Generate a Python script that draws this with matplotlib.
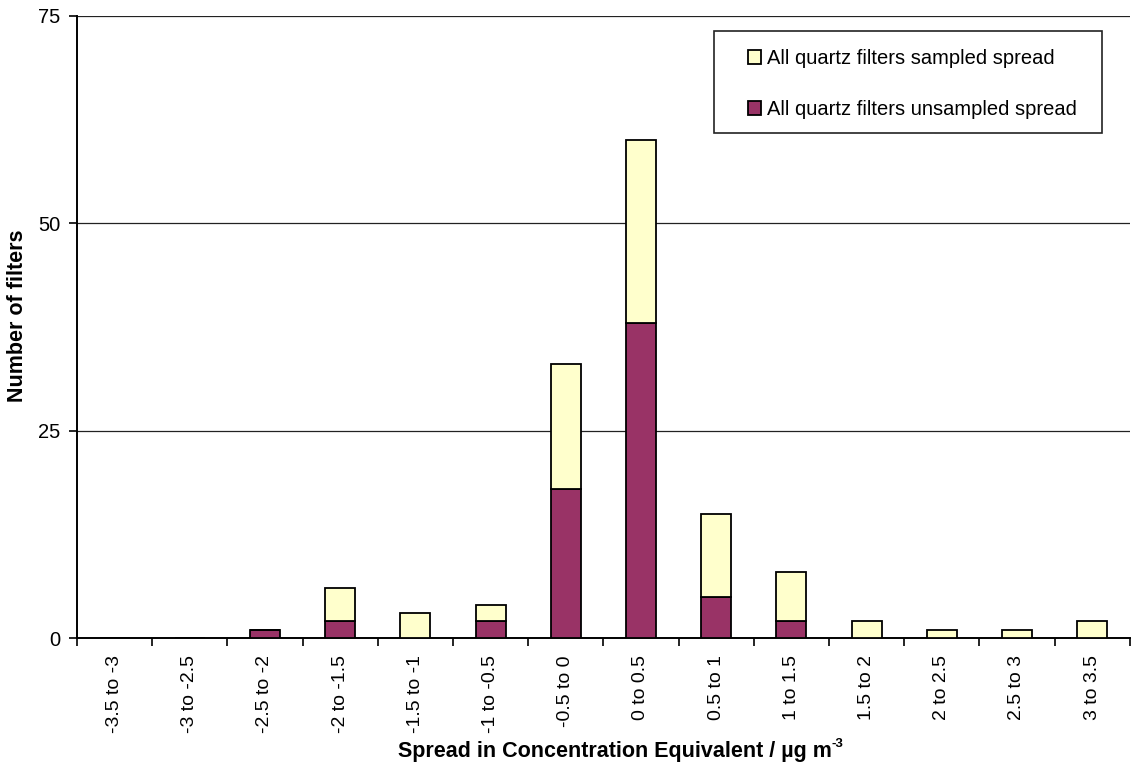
import numpy as np
import matplotlib.pyplot as plt
from matplotlib.patches import Rectangle

plt.rcParams['font.family'] = ['Liberation Sans', 'DejaVu Sans']

categories = ["-3.5 to -3", "-3 to -2.5", "-2.5 to -2", "-2 to -1.5", "-1.5 to -1",
              "-1 to -0.5", "-0.5 to 0", "0 to 0.5", "0.5 to 1", "1 to 1.5",
              "1.5 to 2", "2 to 2.5", "2.5 to 3", "3 to 3.5"]
unsampled = [0, 0, 1, 2, 0, 2, 18, 38, 5, 2, 0, 0, 0, 0]
sampled = [0, 0, 0, 4, 3, 2, 15, 22, 10, 6, 2, 1, 1, 2]

fig = plt.figure(figsize=(11.32, 7.69), dpi=100)
ax = fig.add_axes([0.068, 0.1703, 0.93, 0.809])

x = np.arange(len(categories))
ax.bar(x, unsampled, width=0.4, color="#993366", edgecolor="black", linewidth=1.3,
       label="All quartz filters unsampled spread", zorder=3)
ax.bar(x, sampled, width=0.4, bottom=unsampled, color="#FFFFCC", edgecolor="black",
       linewidth=1.3, label="All quartz filters sampled spread", zorder=3)

ax.set_xlim(-0.5, len(categories) - 0.5)
ax.set_ylim(0, 75)
ax.set_yticks([0, 25, 50, 75])
ax.yaxis.grid(True, color="#222222", linewidth=0.9, zorder=0)
ax.set_xticks(np.arange(len(categories) + 1) - 0.5)
ax.set_xticklabels([])
ax.set_xticks(x, minor=True)
ax.set_xticklabels(categories, minor=True, rotation=90, fontsize=14)
ax.tick_params(axis="x", which="minor", length=0, pad=12.5)
ax.tick_params(axis="x", which="major", length=6, width=1.2)
ax.tick_params(axis="y", labelsize=14.5, length=6, width=1.2, pad=6)

for s in ["top", "right"]:
    ax.spines[s].set_visible(False)
ax.spines["left"].set_linewidth(1.4)
ax.spines["bottom"].set_linewidth(1.4)

fig.text(18 / 1132, 1 - 316 / 769, "Number of filters", rotation=90, fontsize=15.5,
         fontweight="bold", ha="center", va="center")
fig.text(615 / 1132, 1 - 757 / 769, "Spread in Concentration Equivalent / µg m",
         fontsize=15.5, fontweight="bold", ha="center", va="baseline")
fig.text(831 / 1132, 1 - 747 / 769, "-3", fontsize=9.5, fontweight="bold",
         ha="left", va="baseline")

# legend box
ax.add_patch(Rectangle((0.605, 0.812), 0.3685, 0.164, transform=ax.transAxes,
                       facecolor="white", edgecolor="#222222", linewidth=1.2,
                       zorder=4, clip_on=False))
handles, labels = ax.get_legend_handles_labels()
leg = ax.legend(handles[::-1], labels[::-1], loc="upper left",
                bbox_to_anchor=(0.637, 0.947), fontsize=14.5, frameon=False,
                handlelength=0.65, handleheight=0.65, handletextpad=0.3,
                labelspacing=1.6, borderpad=0, borderaxespad=0)
leg.set_zorder(5)

plt.savefig("out.png", dpi=100)
